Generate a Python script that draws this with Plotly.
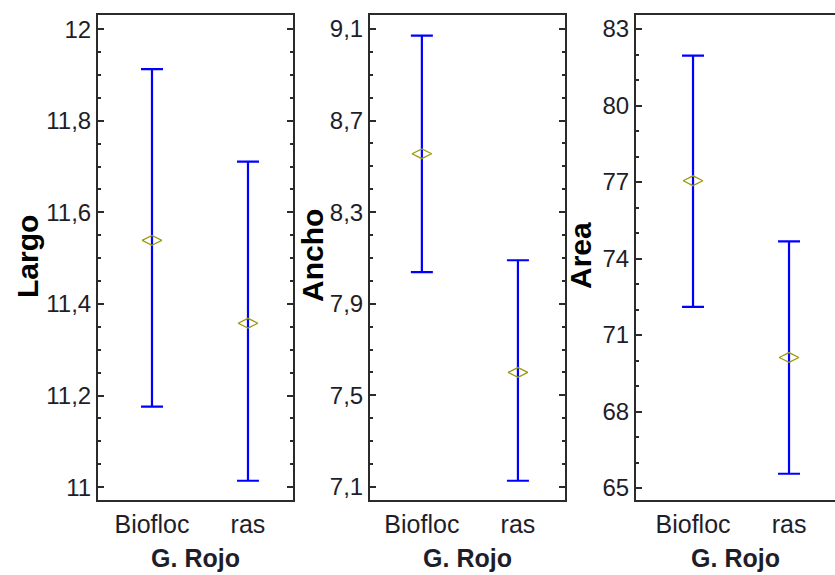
import plotly.graph_objects as go

categories = ["Biofloc", "ras"]

largo_mean = [11.539, 11.358]
largo_upper = [11.913, 11.711]
largo_lower = [11.176, 11.014]

ancho_mean = [8.555, 7.600]
ancho_upper = [9.071, 8.090]
ancho_lower = [8.038, 7.127]

area_mean = [77.05, 70.12]
area_upper = [81.96, 74.67]
area_lower = [72.10, 65.56]

largo_ticks = [11.0, 11.2, 11.4, 11.6, 11.8, 12.0]
largo_labels = ["11", "11,2", "11,4", "11,6", "11,8", "12"]
ancho_ticks = [7.1, 7.5, 7.9, 8.3, 8.7, 9.1]
ancho_labels = ["7,1", "7,5", "7,9", "8,3", "8,7", "9,1"]
area_ticks = [65, 68, 71, 74, 77, 80, 83]
area_labels = ["65", "68", "71", "74", "77", "80", "83"]

panels = [
    dict(name="Largo", mean=largo_mean, up=largo_upper, lo=largo_lower,
         tv=largo_ticks, tt=largo_labels, yr=[10.972, 12.031], minor=0.05,
         dom=[98, 293], xr=[-0.5625, 1.469], title_x=27, title_y=257, mirror=True),
    dict(name="Ancho", mean=ancho_mean, up=ancho_upper, lo=ancho_lower,
         tv=ancho_ticks, tt=ancho_labels, yr=[7.043, 9.161], minor=0.1,
         dom=[370, 565], xr=[-0.54, 1.49], title_x=313, title_y=256, mirror=True),
    dict(name="Area", mean=area_mean, up=area_upper, lo=area_lower,
         tv=area_ticks, tt=area_labels, yr=[64.53, 83.55], minor=1,
         dom=[636, 835], xr=[-0.594, 1.479], title_x=581, title_y=256, mirror=False),
]

W, H = 835, 575
top_px, bot_px = 15, 500
ydom = [1 - bot_px / H, 1 - top_px / H]

fig = go.Figure()
annotations = []
line_col = "#2b2b2b"
txt_col = "#1e1e2a"
font_fam = "Liberation Sans, Arial, sans-serif"

for i, p in enumerate(panels, start=1):
    xa = "x" if i == 1 else f"x{i}"
    ya = "y" if i == 1 else f"y{i}"
    err_plus = [u - m for u, m in zip(p["up"], p["mean"])]
    err_minus = [m - l for m, l in zip(p["mean"], p["lo"])]
    fig.add_trace(go.Scatter(
        x=categories, y=p["mean"], mode="markers", xaxis=xa, yaxis=ya,
        marker=dict(symbol="diamond-wide-open", size=14, color="#9c9a10",
                    line=dict(width=1.3, color="#9c9a10")),
        error_y=dict(type="data", symmetric=False, array=err_plus,
                     arrayminus=err_minus, color="#0000ff", thickness=2.2, width=11),
        showlegend=False, hoverinfo="skip",
    ))
    xkey = "xaxis" if i == 1 else f"xaxis{i}"
    ykey = "yaxis" if i == 1 else f"yaxis{i}"
    fig.layout[xkey] = dict(
        domain=[p["dom"][0] / W, p["dom"][1] / W], anchor=ya, range=p["xr"],
        type="category", showgrid=False, zeroline=False, showline=True,
        linecolor=line_col, linewidth=2, mirror=True, ticks="",
        ticklabelstandoff=1,
        tickfont=dict(family=font_fam, size=25, color=txt_col),
        title=dict(text="<b>G. Rojo</b>", standoff=12,
                   font=dict(family=font_fam, size=25, color=txt_col)),
    )
    fig.layout[ykey] = dict(
        domain=ydom, anchor=xa, range=p["yr"], showgrid=False, zeroline=False,
        showline=True, linecolor=line_col, linewidth=2,
        mirror="allticks" if p["mirror"] else False,
        ticks="inside", ticklen=6, tickwidth=2, tickcolor=line_col,
        tickvals=p["tv"], ticktext=p["tt"],
        tickfont=dict(family=font_fam, size=24, color=txt_col),
        minor=dict(dtick=p["minor"], tick0=p["tv"][0], ticks="inside", ticklen=3,
                   tickwidth=2, tickcolor=line_col),
    )
    annotations.append(dict(
        text=f"<b>{p['name']}</b>", xref="paper", yref="paper",
        x=p["title_x"] / W, y=1 - p["title_y"] / H, textangle=-90,
        showarrow=False, xanchor="center", yanchor="middle",
        font=dict(family=font_fam, size=30, color="#000000"),
    ))

fig.update_layout(
    width=W, height=H, margin=dict(l=0, r=0, t=0, b=0),
    paper_bgcolor="white", plot_bgcolor="white",
    annotations=annotations,
)

fig.write_html("out.html", config={"displayModeBar": False},
               post_script="document.body.style.margin='0';document.body.style.overflow='hidden';")
